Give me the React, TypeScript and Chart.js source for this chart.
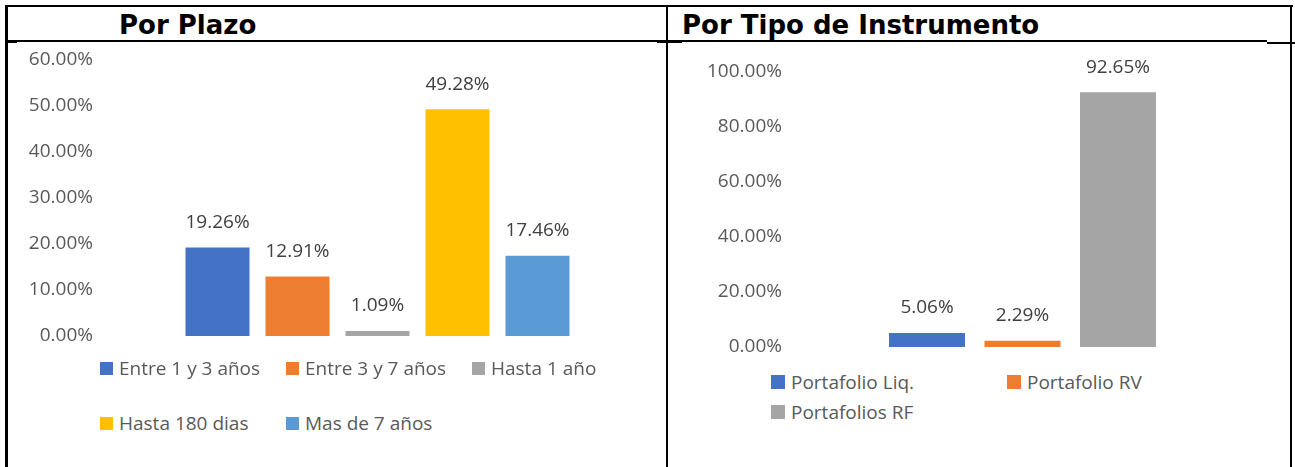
import React, { useEffect, useRef } from "react";
import { Chart, registerables } from "chart.js";

Chart.register(...registerables);

// ---- Data ----
const plazoTitle = "Por Plazo";
const plazoLabels = ["Entre 1 y 3 años", "Entre 3 y 7 años", "Hasta 1 año", "Hasta 180 dias", "Mas de 7 años"];
const plazoValues = [19.26, 12.91, 1.09, 49.28, 17.46];
const plazoColors = ["#4472C4", "#ED7D31", "#A5A5A5", "#FFC000", "#5B9BD5"];
const plazoMax = 60;
const plazoStep = 10;

const tipoTitle = "Por Tipo de Instrumento";
const tipoLabels = ["Portafolio Liq.", "Portafolio RV", "Portafolios RF"];
const tipoValues = [5.06, 2.29, 92.65];
const tipoColors = ["#4472C4", "#ED7D31", "#A5A5A5"];
const tipoMax = 100;
const tipoStep = 20;

const FONT = '"Open Sans", "Noto Sans", sans-serif';
const FONT_SIZE = 19;
const TICK_COLOR = "#595959";
const LABEL_COLOR = "#404040";

const fmt = (v: number) => v.toFixed(2) + "%";

const valueLabelPlugin = {
  id: "valueLabels",
  afterDatasetsDraw(chart: any) {
    const ctx = chart.ctx;
    ctx.save();
    ctx.font = `${FONT_SIZE}px ${FONT}`;
    ctx.fillStyle = LABEL_COLOR;
    ctx.textAlign = "center";
    ctx.textBaseline = "middle";
    chart.data.datasets.forEach((ds: any, i: number) => {
      const meta = chart.getDatasetMeta(i);
      meta.data.forEach((el: any, j: number) => {
        ctx.fillText(fmt(ds.data[j]), el.x, el.y - 25);
      });
    });
    ctx.restore();
  },
};

type BarProps = {
  labels: string[];
  values: number[];
  colors: string[];
  max: number;
  step: number;
  left: number;
  top: number;
  width: number;
  height: number;
  yWidth: number;
  padding: { top: number; bottom: number; left: number; right: number };
  catPct: number;
  barPct: number;
};

function BarChart(p: BarProps) {
  const ref = useRef<HTMLCanvasElement | null>(null);
  useEffect(() => {
    if (!ref.current) return;
    const chart = new Chart(ref.current, {
      type: "bar",
      data: {
        labels: [""],
        datasets: p.labels.map((lab, i) => ({
          label: lab,
          data: [p.values[i]],
          backgroundColor: p.colors[i],
          borderWidth: 0,
          categoryPercentage: p.catPct,
          barPercentage: p.barPct,
        })),
      },
      options: {
        responsive: false,
        animation: false,
        devicePixelRatio: 1,
        layout: { padding: p.padding },
        plugins: {
          legend: { display: false },
          tooltip: { enabled: false },
          title: { display: false },
        },
        scales: {
          x: { display: false },
          y: {
            min: 0,
            max: p.max,
            grid: { display: false, drawTicks: false },
            border: { display: false },
            ticks: {
              stepSize: p.step,
              autoSkip: false,
              padding: 8,
              color: TICK_COLOR,
              font: { family: FONT, size: FONT_SIZE },
              callback: (v: any) => fmt(Number(v)),
            },
            afterFit: (scale: any) => {
              scale.width = p.yWidth;
            },
          },
        },
      },
      plugins: [valueLabelPlugin],
    } as any);
    return () => chart.destroy();
  }, []);
  return (
    <canvas
      ref={ref}
      width={p.width}
      height={p.height}
      style={{ position: "absolute", left: p.left, top: p.top, width: p.width, height: p.height }}
    />
  );
}

function Legend(props: {
  labels: string[];
  colors: string[];
  cols: number;
  x0: number;
  y0: number;
  colW: number;
  rowH: number;
  box: number;
}) {
  return (
    <>
      {props.labels.map((lab, i) => {
        const col = i % props.cols;
        const row = Math.floor(i / props.cols);
        return (
          <div
            key={lab}
            style={{
              position: "absolute",
              left: props.x0 + col * props.colW,
              top: props.y0 + row * props.rowH - 13,
              height: 26,
              display: "flex",
              alignItems: "center",
              whiteSpace: "nowrap",
              fontFamily: FONT,
              fontSize: FONT_SIZE,
              lineHeight: "26px",
              color: TICK_COLOR,
            }}
          >
            <span
              style={{
                display: "inline-block",
                width: props.box,
                height: props.box,
                background: props.colors[i],
                marginRight: 6,
                flex: "none",
              }}
            />
            <span>{lab}</span>
          </div>
        );
      })}
    </>
  );
}

const line = (left: number, top: number, width: number, height: number) => (
  <div style={{ position: "absolute", left, top, width, height, background: "#000" }} />
);

export default function App() {
  const titleStyle: React.CSSProperties = {
    position: "absolute",
    top: 10,
    fontFamily: '"DejaVu Sans", sans-serif',
    fontWeight: "bold",
    fontSize: 26,
    lineHeight: "30px",
    color: "#000",
    whiteSpace: "nowrap",
  };
  return (
    <div
      style={{
        position: "fixed",
        left: 0,
        top: 0,
        width: 1295,
        height: 467,
        background: "#fff",
        overflow: "hidden",
      }}
    >
      {line(5, 5, 1288, 2)}
      {line(5, 5, 3, 462)}
      {line(666, 5, 2, 462)}
      {line(1290, 5, 2, 462)}
      {line(8, 40, 1259, 2)}
      {line(1267, 42, 28, 2)}
      {line(8, 42, 9, 1)}
      {line(657, 42, 25, 1)}

      <div style={{ ...titleStyle, left: 119 }}>{plazoTitle}</div>
      <div style={{ ...titleStyle, left: 682 }}>{tipoTitle}</div>

      <BarChart
        labels={plazoLabels}
        values={plazoValues}
        colors={plazoColors}
        max={plazoMax}
        step={plazoStep}
        left={10}
        top={40}
        width={650}
        height={316}
        yWidth={91}
        padding={{ top: 20, bottom: 20, left: 0, right: 6 }}
        catPct={0.7233}
        barPct={0.8}
      />
      <Legend labels={plazoLabels} colors={plazoColors} cols={3} x0={100} y0={368} colW={186} rowH={55} box={13} />

      <BarChart
        labels={tipoLabels}
        values={tipoValues}
        colors={tipoColors}
        max={tipoMax}
        step={tipoStep}
        left={672}
        top={50}
        width={600}
        height={317}
        yWidth={118}
        padding={{ top: 22, bottom: 20, left: 0, right: 17 }}
        catPct={0.616}
        barPct={0.796}
      />
      <Legend labels={tipoLabels} colors={tipoColors} cols={2} x0={771} y0={382} colW={236} rowH={30} box={14} />
    </div>
  );
}
